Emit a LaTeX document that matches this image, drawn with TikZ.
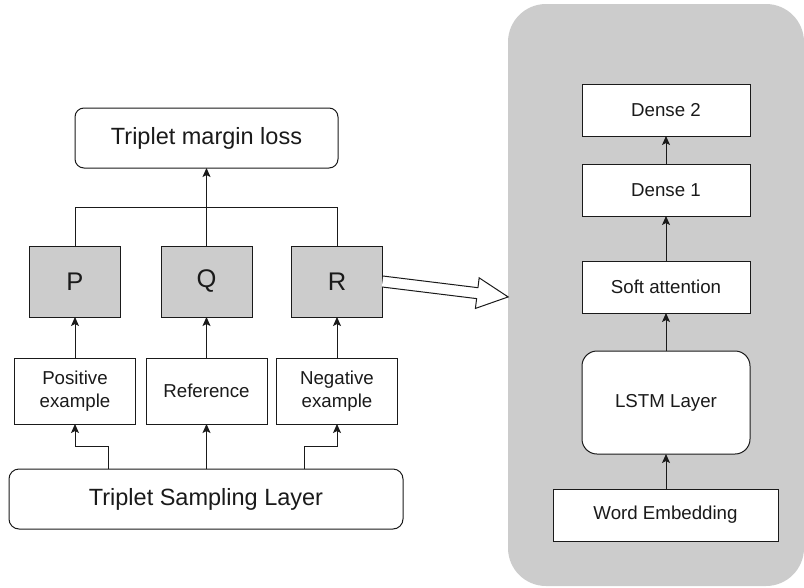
\documentclass[tikz,border=0pt]{standalone}
\usepackage{fontspec}
\setmainfont{Liberation Sans}
\usetikzlibrary{arrows.meta}
\definecolor{panelgray}{HTML}{CCCCCC}
\definecolor{ink}{HTML}{1A1A1A}

\begin{document}
\begin{tikzpicture}[x=1pt,y=-1pt,
  box/.style={draw=ink, line width=1pt, fill=white, inner sep=0pt, outer sep=0pt,
              align=center, text=ink},
  big/.style={font=\fontsize{23.5}{28}\selectfont},
  letter/.style={font=\fontsize{25.5}{30}\selectfont},
  small/.style={font=\fontsize{18.7}{23}\selectfont},
  shaded/.style={box, fill=panelgray},
  arr/.style={draw=ink, line width=1pt, -{Stealth[length=9pt,width=8pt,inset=2pt]}},
  wire/.style={draw=ink, line width=1pt},
]
\useasboundingbox (0,0) rectangle (804,587);

% encoder panel on the right
\node[fill=panelgray, rounded corners=38pt, minimum width=296pt, minimum height=582pt,
      inner sep=0pt, outer sep=0pt] (panel) at (656,295) {};

% triplet branch
\node[box, big, rounded corners=9pt, minimum width=263pt, minimum height=60pt] (loss) at (206.5,138) {Triplet margin loss};

\node[shaded, letter, minimum width=91pt, minimum height=71pt] (P) at (75,281.5) {P};
\node[shaded, letter, minimum width=91pt, minimum height=71pt] (Q) at (206.5,281.5) {Q};
\node[shaded, letter, minimum width=91pt, minimum height=71pt] (R) at (337,281.5) {R};

\node[box, small, minimum width=121pt, minimum height=66pt] (pos) at (75,391) {Positive\\example};
\node[box, small, minimum width=121pt, minimum height=66pt] (ref) at (206.5,391) {Reference};
\node[box, small, minimum width=121pt, minimum height=66pt] (neg) at (337,391) {Negative\\example};

\node[box, big, rounded corners=10pt, minimum width=394pt, minimum height=60pt] (tsl) at (206,499) {Triplet Sampling Layer};

% sampling layer to the three examples
\draw[arr] ([xshift=-98pt]tsl.north) -- ++(0,-23) -| (pos.south);
\draw[arr] (ref.south |- tsl.north) -- (ref.south);
\draw[arr] ([xshift=98pt]tsl.north) -- ++(0,-23) -| (neg.south);

% examples to encodings
\draw[arr] (pos.north) -- (P.south);
\draw[arr] (ref.north) -- (Q.south);
\draw[arr] (neg.north) -- (R.south);

% encodings merged into the loss
\draw[wire] (P.north) -- ++(0,-39) -| (R.north);
\draw[arr] (Q.north) -- (loss.south);

% hollow arrow pointing into the encoder
\begin{scope}[shift={(R.east)}, rotate=-7]
  \filldraw[fill=white, draw=ink, line width=1pt, line join=miter]
    (0,-5.5) -- (95.5,-5.5) -- (95.5,-15.4) -- (126.6,0) -- (95.5,15.4) -- (95.5,5.5) -- (0,5.5);
\end{scope}

% encoder stack
\node[box, small, minimum width=168pt, minimum height=52pt] (d2) at (666,110) {Dense 2};
\node[box, small, minimum width=168pt, minimum height=52pt] (d1) at (666,190) {Dense 1};
\node[box, small, minimum width=168pt, minimum height=52pt] (att) at (666,287) {Soft attention};
\node[box, small, rounded corners=15pt, minimum width=168pt, minimum height=103pt] (lstm) at (666,402.5) {LSTM Layer};
\node[box, small, minimum width=225pt, minimum height=52pt] (emb) at (665.5,515) {Word Embedding};

\draw[arr] (emb.north -| lstm.south) -- (lstm.south);
\draw[arr] (lstm.north) -- (att.south);
\draw[arr] (att.north) -- (d1.south);
\draw[arr] (d1.north) -- (d2.south);
\end{tikzpicture}
\end{document}
